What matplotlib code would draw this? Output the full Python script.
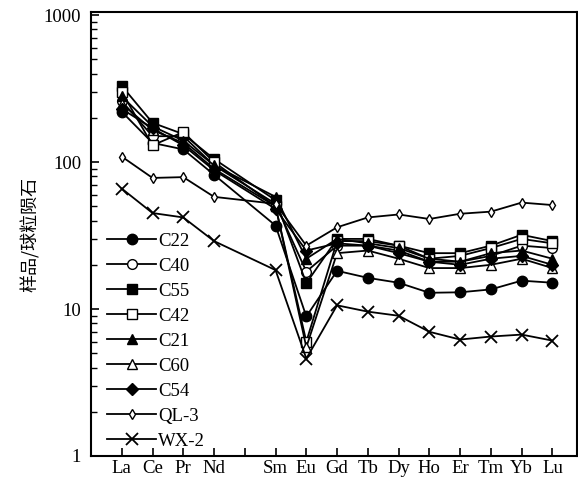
import numpy as np
import matplotlib
matplotlib.use("Agg")
import matplotlib.pyplot as plt
from matplotlib.ticker import LogLocator, NullFormatter, FixedLocator

plt.rcParams['font.family'] = ['Liberation Serif', 'DejaVu Serif']

elements = ['La', 'Ce', 'Pr', 'Nd', 'Pm', 'Sm', 'Eu', 'Gd', 'Tb', 'Dy', 'Ho', 'Er', 'Tm', 'Yb', 'Lu']
tick_labels = ['La', 'Ce', 'Pr', 'Nd', '', 'Sm', 'Eu', 'Gd', 'Tb', 'Dy', 'Ho', 'Er', 'Tm', 'Yb', 'Lu']
nan = np.nan

C22 = [220, 135, 122, 82, nan, 37, 8.9, 18.2, 16.3, 15.1, 12.9, 13.0, 13.6, 15.6, 15.1]
C40 = [260, 150, 150, 95, nan, 52, 18, 27, 27, 25, 21, 21, 23, 27, 26]
C55 = [330, 185, 155, 105, nan, 55, 15, 30, 30, 27, 24, 24, 27, 32, 29]
C42 = [300, 130, 160, 100, nan, 50, 6.0, 29, 29, 27, 22, 23, 26, 30, 28]
C21 = [280, 175, 140, 95, nan, 58, 22, 30, 28, 26, 22, 21, 24, 25, 22]
C60 = [250, 165, 135, 90, nan, 50, 5.5, 24, 25, 22, 19, 19, 20, 22, 19]
C54 = [230, 170, 130, 88, nan, 48, 25, 28, 27, 24, 21, 20, 22, 23, 20]
QL3 = [109, 78, 79, 58, nan, 52, 27, 36, 42, 44, 41, 44.5, 46, 53, 51]
WX2 = [66, 45, 42, 29, nan, 18.4, 4.6, 10.6, 9.6, 9.0, 7.0, 6.2, 6.5, 6.7, 6.1]

series = [
    ('C22', C22, dict(marker='o', ms=7.5, mfc='black')),
    ('C40', C40, dict(marker='o', ms=7, mfc='white')),
    ('C55', C55, dict(marker='s', ms=7, mfc='black')),
    ('C42', C42, dict(marker='s', ms=7, mfc='white')),
    ('C21', C21, dict(marker='^', ms=7.5, mfc='black')),
    ('C60', C60, dict(marker='^', ms=7.5, mfc='white')),
    ('C54', C54, dict(marker='D', ms=6.5, mfc='black')),
    ('QL-3', QL3, dict(marker='d', ms=5.5, mfc='white')),
    ('WX-2', WX2, dict(marker='x', ms=9, mfc='black', mew=1.3)),
]

fig = plt.figure(figsize=(5.78, 4.82), dpi=100)
ax = fig.add_axes([91/578, 26/482, 486/578, 444/482])

xpos = np.arange(len(elements))
for name, vals, st in series:
    v = np.array(vals, dtype=float)
    m = ~np.isnan(v)
    kw = dict(color='black', lw=1.3, mec='black')
    kw.update(st)
    ax.plot(xpos[m], v[m], label=name, **kw)

ax.set_yscale('log')
ax.set_ylim(1, 1050)
ax.set_xlim(-1, 14.8)
ax.set_xticks(xpos)
ax.set_xticklabels(tick_labels, fontsize=13.5)
ax.yaxis.set_major_locator(FixedLocator([1, 10, 100, 1000]))
ax.set_yticklabels(['1', '10', '100', '1000'], fontsize=13.5)
ax.yaxis.set_minor_locator(LogLocator(base=10, subs=np.arange(2, 10)))
ax.yaxis.set_minor_formatter(NullFormatter())
ax.tick_params(axis='both', which='major', direction='in', length=6, width=1.2)
ax.tick_params(axis='y', which='minor', direction='in', length=4, width=1.0)
ax.tick_params(axis='x', pad=3)
ax.tick_params(axis='y', pad=7)
for s in ax.spines.values():
    s.set_linewidth(1.5)

ax.set_ylabel('样品/球粒陨石', family=['Noto Sans CJK SC', 'DejaVu Sans'],
              fontsize=13, fontweight='medium', labelpad=3)

leg = ax.legend(loc='lower left', bbox_to_anchor=(0.018, -0.003), frameon=False,
                fontsize=13.5, handlelength=2.6, handletextpad=0.1,
                labelspacing=0.42, borderaxespad=0.0)

fig.savefig('out.png', dpi=100)
